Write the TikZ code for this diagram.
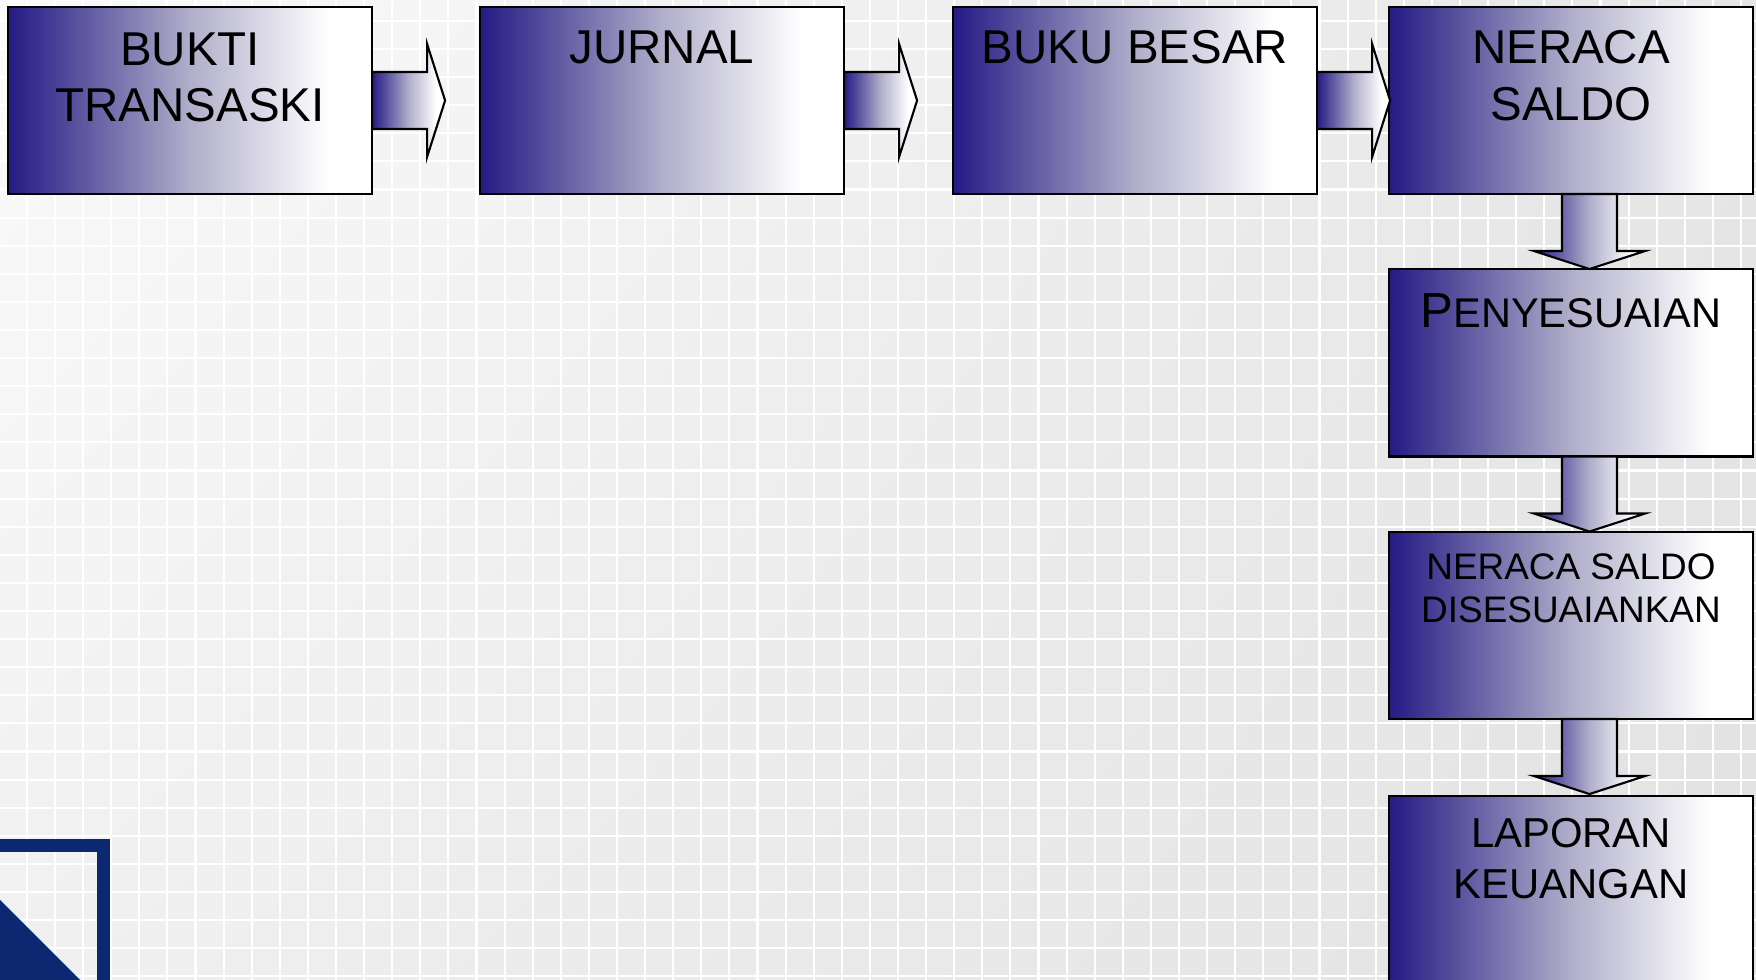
\documentclass[tikz,border=0pt]{standalone}
\usepackage{fontspec}
\setmainfont{Liberation Sans}
\usetikzlibrary{calc,shadings}

\definecolor{boxblue}{RGB}{36,26,132}
\definecolor{boxmid}{RGB}{176,174,202}
\definecolor{frameblue}{RGB}{12,40,112}
\definecolor{bgul}{RGB}{250,250,250}
\definecolor{bgur}{RGB}{230,230,230}
\definecolor{bgll}{RGB}{240,240,240}
\definecolor{bglr}{RGB}{226,226,226}

\pgfdeclarehorizontalshading{boxshade}{100bp}{color(0bp)=(boxblue); color(25bp)=(boxblue);
  color(50bp)=(boxmid); color(69bp)=(white); color(100bp)=(white)}

\tikzset{
  stepbox/.style={draw=black, line width=0.6pt, shading=boxshade,
    minimum width=3.64cm, minimum height=1.87cm, inner sep=0pt, outer sep=0pt},
  barrow/.style={draw=black, line width=0.6pt, shading=boxshade},
  bigtxt/.style={anchor=north, inner sep=0pt, align=center, font=\fontsize{13.5pt}{16.1pt}\selectfont},
  gridline/.style={white, line width=0.6pt}
}

\begin{document}
\begin{tikzpicture}[x=0.01cm, y=-0.01cm]
\useasboundingbox (0,0) rectangle (1756,980);
\clip (0,0) rectangle (1756,980);

\shade[upper left=bgul, upper right=bgur, lower left=bgll, lower right=bglr] (0,0) rectangle (1756,980);
\foreach \x in {0,...,63}
    {\draw[gridline] ({\x*28.1-1.2},0) -- ++(0,980);}
\foreach \y in {0,...,35}
    {\draw[gridline] (0,{\y*28.1-7.2}) -- ++(1756,0);}

\draw[frameblue, line width=3.7pt] (-20,845.5) -- (103.5,845.5) -- (103.5,1000);
\fill[frameblue] (0,900) -- (80,980) -- (0,980) -- cycle;

\node[stepbox] (b1) at (190,100.5) {};
\node[stepbox] (b2) at (662,100.5) {};
\node[stepbox] (b3) at (1135,100.5) {};
\node[stepbox] (b4) at (1571,100.5) {};
\node[stepbox] (b5) at (1571,363) {};
\node[stepbox] (b6) at (1571,625.5) {};
\node[stepbox] (b7) at (1571,889.5) {};

\foreach \a in {b1,b2,b3}
    {\draw[barrow] (\a.east) ++(0,-28.5) -- ++(55,0) -- ++(0,-28) -- ++(18,56.5)
       -- ++(-18,56.5) -- ++(0,-28) -- ++(-55,0) -- cycle;}
\foreach \a in {b4,b5,b6}
    {\draw[barrow] (\a.south) ++(-9,0) -- ++(0,57) -- ++(-28,0) -- ++(55.5,18)
       -- ++(55.5,-18) -- ++(-28,0) -- ++(0,-57) -- cycle;}

\node[bigtxt] (t1) at ($(b1.north)+(0,25)$) {BUKTI\\TRANSASKI};
\node[bigtxt] (t2) at ($(b2.north)+(0,23)$) {JURNAL};
\node[bigtxt] (t3) at ($(b3.north)+(0,23)$) {BUKU BESAR};
\node[bigtxt] (t4) at ($(b4.north)+(0,23)$) {NERACA\\SALDO};
\node[bigtxt, font=\fontsize{11.8pt}{13.5pt}\selectfont] (t5) at ($(b5.north)+(0,23)$)
    {{\fontsize{14pt}{16pt}\selectfont P}ENYESUAIAN};
\node[bigtxt, font=\fontsize{10.5pt}{12.2pt}\selectfont] (t6) at ($(b6.north)+(0,21)$)
    {NERACA SALDO\\DISESUAIANKAN};
\node[bigtxt, font=\fontsize{11.9pt}{14.5pt}\selectfont] (t7) at ($(b7.north)+(0,22)$)
    {LAPORAN\\KEUANGAN};
\end{tikzpicture}
\end{document}
